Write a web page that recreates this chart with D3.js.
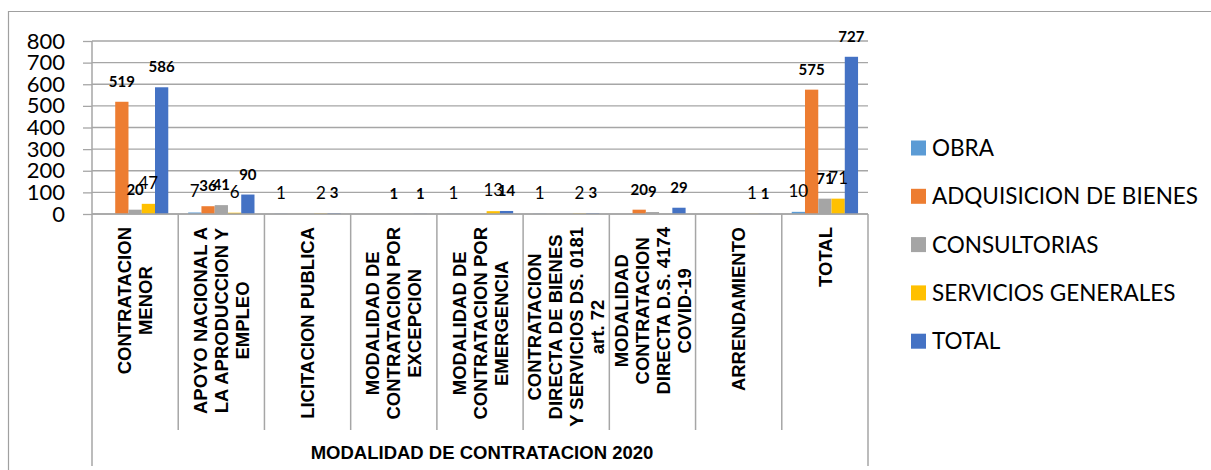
<!DOCTYPE html>
<html>
<head>
<meta charset="utf-8">
<script src="https://cdn.jsdelivr.net/npm/d3@7"></script>
<style>
  body { margin: 0; background: #fff; }
  svg { display: block; }
</style>
</head>
<body>
<svg id="chart" width="1211" height="470"></svg>
<script>
// categories (one array of lines per category label)
const categories = [
  ["CONTRATACION", "MENOR"],
  ["APOYO NACIONAL A", "LA APRODUCCION Y", "EMPLEO"],
  ["LICITACION PUBLICA"],
  ["MODALIDAD DE", "CONTRATACION POR", "EXCEPCION"],
  ["MODALIDAD DE", "CONTRATACION POR", "EMERGENCIA"],
  ["CONTRATACION", "DIRECTA DE BIENES", "Y SERVICIOS DS. 0181", "art. 72"],
  ["MODALIDAD", "CONTRATACION", "DIRECTA D.S. 4174", "COVID-19"],
  ["ARRENDAMIENTO"],
  ["TOTAL"]
];
const seriesNames = ["OBRA", "ADQUISICION DE BIENES", "CONSULTORIAS", "SERVICIOS GENERALES", "TOTAL"];
const seriesColors = ["#5B9BD5", "#ED7D31", "#A5A5A5", "#FFC000", "#4472C4"];

// values per series (null = empty cell)
const obra      = [null, 7, 1, null, 1, 1, null, null, 10];
const adquisicion = [519, 36, null, null, null, null, 20, null, 575];
const consultorias = [20, 41, null, 1, null, null, 9, null, 71];
const servicios = [47, 6, 2, null, 13, 2, null, 1, 71];
const total     = [586, 90, 3, 1, 14, 3, 29, 1, 727];

const yTicks = [0, 100, 200, 300, 400, 500, 600, 700, 800];
const axisTitle = "MODALIDAD DE CONTRATACION 2020";

const seriesValues = [obra, adquisicion, consultorias, servicios, total];
const boldSeries = new Set([1, 2, 4]);

const svg = d3.select("#chart");
const plot = { left: 92, right: 868, top: 41, bottom: 214 };
const gridColor = "#a6a6a6";

// outer chart border (left + top)
svg.append("path")
  .attr("d", "M8.5,470 V11.5 H1211")
  .attr("fill", "none")
  .attr("stroke", "#a0a0a0")
  .attr("stroke-width", 1.2);

const catKeys = categories.map((c, i) => i);
const x = d3.scaleBand().domain(catKeys).range([plot.left, plot.right]);
const x1 = d3.scaleBand().domain(seriesNames.map((s, i) => i))
  .range([0, x.bandwidth()]).paddingOuter(0.75);
const y = d3.scaleLinear().domain([0, 800]).range([plot.bottom, plot.top]);

// y axis with gridlines
const yAxis = svg.append("g")
  .attr("transform", `translate(${plot.left},0)`)
  .call(d3.axisLeft(y).tickValues(yTicks).tickSize(9).tickPadding(18));
yAxis.select(".domain").remove();
yAxis.selectAll(".tick line").attr("stroke", gridColor).attr("stroke-width", 1.3);
yAxis.selectAll(".tick text")
  .attr("font-family", "Lato, 'Open Sans', sans-serif")
  .attr("font-size", 22)
  .attr("fill", "#000");

svg.append("g").selectAll("line")
  .data(yTicks)
  .join("line")
  .attr("x1", plot.left).attr("x2", plot.right)
  .attr("y1", d => y(d)).attr("y2", d => y(d))
  .attr("stroke", gridColor).attr("stroke-width", 1.3);

// bars
const groups = svg.append("g").selectAll("g")
  .data(catKeys)
  .join("g")
  .attr("transform", c => `translate(${x(c)},0)`);

groups.selectAll("rect")
  .data(c => seriesValues.map((vals, s) => ({ s, v: vals[c] })).filter(d => d.v != null))
  .join("rect")
  .attr("x", d => x1(d.s))
  .attr("width", x1.bandwidth())
  .attr("y", d => y(d.v))
  .attr("height", d => y(0) - y(d.v))
  .attr("fill", d => seriesColors[d.s]);

// data labels
groups.selectAll("text")
  .data(c => seriesValues.map((vals, s) => ({ s, v: vals[c] })).filter(d => d.v != null))
  .join("text")
  .attr("x", d => x1(d.s) + x1.bandwidth() / 2)
  .attr("y", d => y(d.v) - 15)
  .attr("text-anchor", "middle")
  .attr("font-family", "Lato, 'Open Sans', sans-serif")
  .attr("font-size", d => boldSeries.has(d.s) ? 15 : 17)
  .attr("font-weight", d => boldSeries.has(d.s) ? "bold" : "normal")
  .attr("fill", "#000")
  .text(d => d.v);

// category axis lines
svg.append("line")
  .attr("x1", plot.left).attr("x2", plot.right)
  .attr("y1", plot.bottom).attr("y2", plot.bottom)
  .attr("stroke", gridColor).attr("stroke-width", 1.5);

svg.append("g").selectAll("line")
  .data(catKeys.slice(1))
  .join("line")
  .attr("x1", c => x(c)).attr("x2", c => x(c))
  .attr("y1", plot.bottom).attr("y2", 430)
  .attr("stroke", gridColor).attr("stroke-width", 1.5);

svg.append("g").selectAll("line")
  .data([plot.left, plot.right])
  .join("line")
  .attr("x1", d => d).attr("x2", d => d)
  .attr("y1", d => d === plot.left ? plot.top : plot.bottom).attr("y2", 466)
  .attr("stroke", gridColor).attr("stroke-width", 1.5);

// rotated category labels
const lineH = 21;
catKeys.forEach(c => {
  const lines = categories[c];
  const g = svg.append("g");
  const texts = g.selectAll("text")
    .data(lines)
    .join("text")
    .attr("x", 0)
    .attr("y", (d, i) => (i - (lines.length - 1) / 2) * lineH)
    .attr("dy", "0.36em")
    .attr("text-anchor", "middle")
    .attr("font-family", "'Liberation Sans', Arial, sans-serif")
    .attr("font-weight", "bold")
    .attr("font-size", 18.5)
    .attr("fill", "#000")
    .text(d => d);
  const maxW = d3.max(texts.nodes(), n => n.getComputedTextLength());
  g.attr("transform", `translate(${x(c) + x.bandwidth() / 2},${227 + maxW / 2}) rotate(-90)`);
});

// axis title
svg.append("text")
  .attr("x", (plot.left + plot.right) / 2 + 2)
  .attr("y", 459)
  .attr("text-anchor", "middle")
  .attr("font-family", "'Liberation Sans', Arial, sans-serif")
  .attr("font-weight", "bold")
  .attr("font-size", 18.5)
  .text(axisTitle);

// legend
const legend = svg.append("g").selectAll("g")
  .data(seriesNames)
  .join("g")
  .attr("transform", (d, i) => `translate(911,${148 + i * 48.3})`);
legend.append("rect")
  .attr("x", 0).attr("y", -7.5)
  .attr("width", 15).attr("height", 15)
  .attr("fill", (d, i) => seriesColors[i]);
legend.append("text")
  .attr("x", 21)
  .attr("dy", "0.36em")
  .attr("font-family", "Lato, 'Open Sans', sans-serif")
  .attr("font-size", 22.5)
  .attr("fill", "#000")
  .text(d => d);
</script>
</body>
</html>
